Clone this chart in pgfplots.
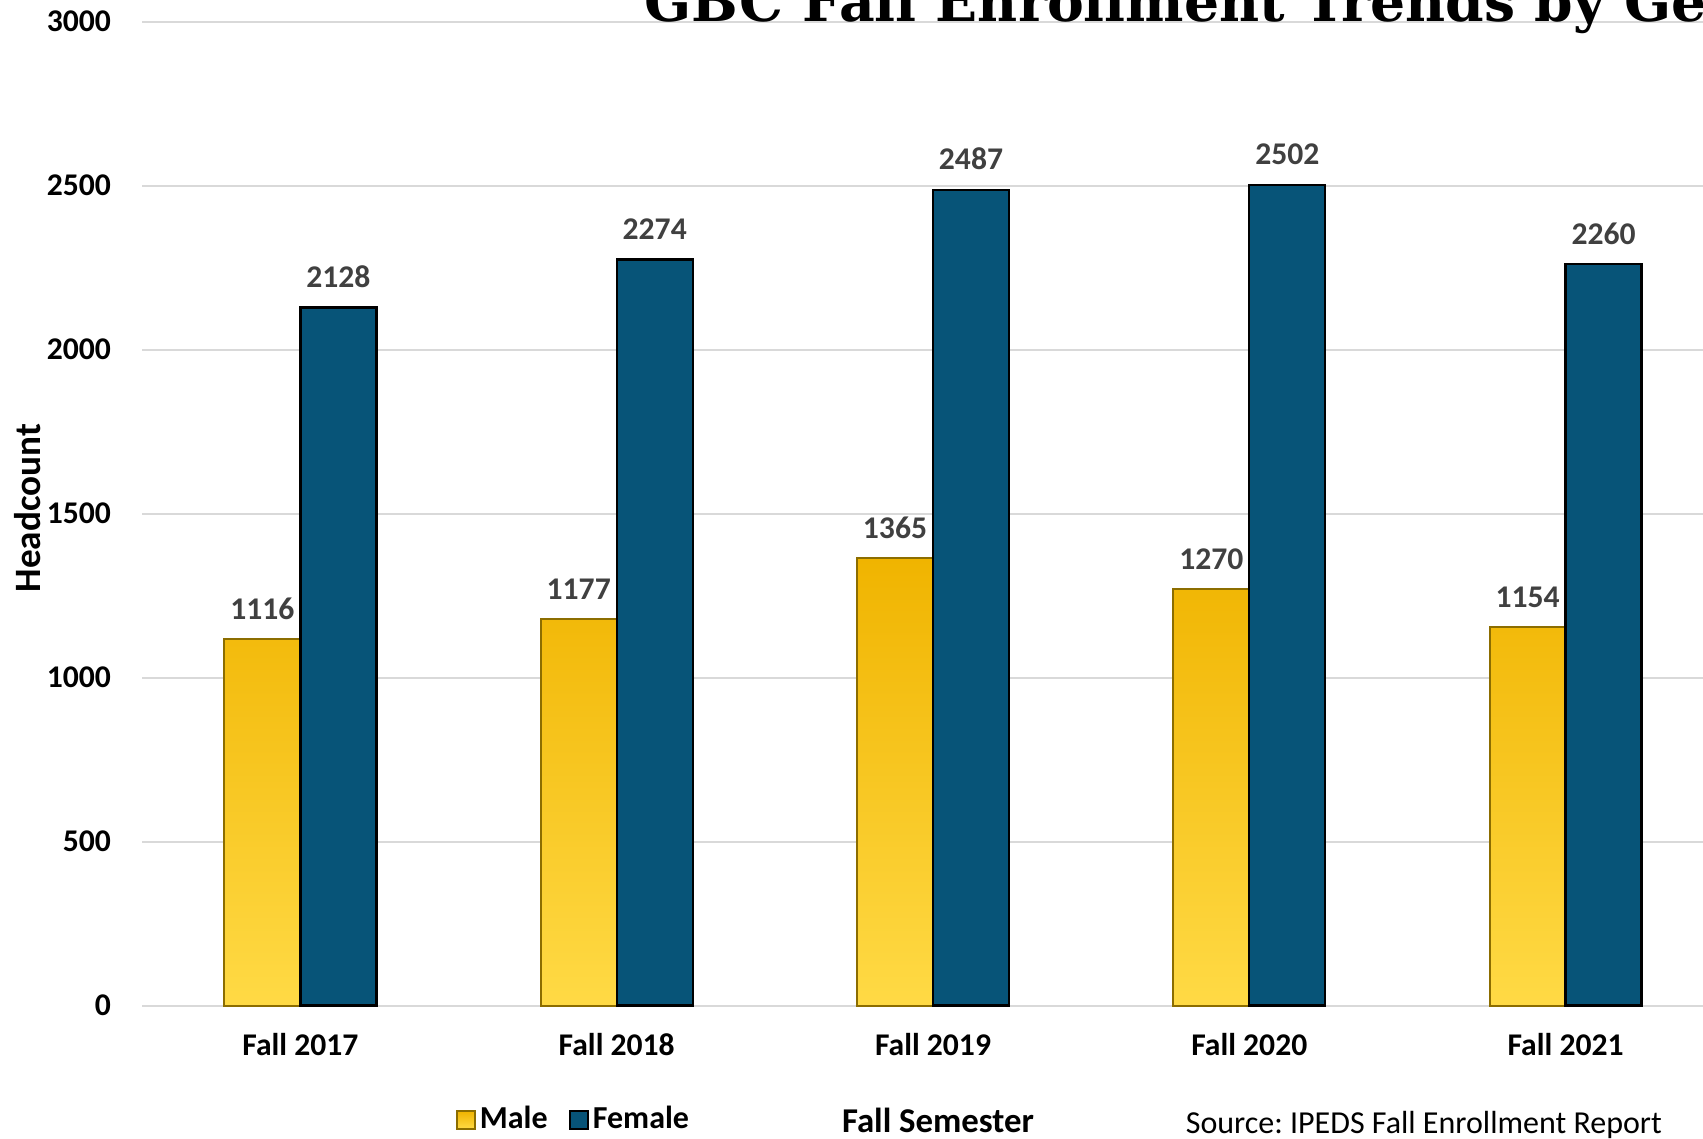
\documentclass[border=0pt]{standalone}
\usepackage{pgfplots}
\pgfplotsset{compat=1.18}
\usepackage{fontspec}
\setmainfont{Carlito}
\newfontfamily\titlefont{DejaVu Serif}
\definecolor{maletop}{HTML}{F0B400}
\definecolor{malebot}{HTML}{FFDA45}
\definecolor{maleedge}{HTML}{8C6D00}
\definecolor{femfill}{HTML}{075478}
\definecolor{lbl}{HTML}{404040}
\definecolor{gridc}{HTML}{D9D9D9}

\begin{document}
\frenchspacing
\begin{tikzpicture}
\begin{axis}[
  at={(35.575pt,33.125pt)}, anchor=south west,
  width=395.35pt, height=246pt, scale only axis,
  xmin=-0.5, xmax=4.5, ymin=0, ymax=3000,
  ybar=0pt, bar width=19pt,
  xtick={0,1,2,3,4},
  xticklabels={Fall 2017,Fall 2018,Fall 2019,Fall 2020,Fall 2021},
  ytick={0,500,1000,1500,2000,2500,3000},
  major tick length=0pt,
  axis x line*=bottom, axis y line*=left,
  x axis line style={draw=gridc, line width=0.5pt},
  y axis line style={draw=none},
  ymajorgrids, grid style={draw=gridc, line width=0.5pt},
  ticklabel style={font=\fontsize{7.9}{9}\selectfont\bfseries},
  xticklabel style={yshift=-3.4pt},
  yticklabel style={xshift=-4.3pt},
  /pgf/number format/assume math mode=true,
  scaled y ticks=false,
  y tick label style={/pgf/number format/set thousands separator={}},
  nodes near coords,
  every node near coord/.append style={font=\fontsize{7.9}{9}\selectfont\bfseries, text=lbl, yshift=1.3pt,
    /pgf/number format/set thousands separator={}, /pgf/number format/assume math mode=true},
  legend style={at={(0.1905,-0.1164)}, anchor=west, draw=none, fill=none,
    legend columns=2, font=\fontsize{8}{9}\selectfont\bfseries,
    /tikz/every even column/.append style={column sep=3.3pt},
    /tikz/every odd column/.append style={column sep=-1pt}},
  legend image code/.code={\draw[#1] (0pt,-2.2pt) rectangle (4.4pt,2.2pt);},
  clip=false,
]
\addplot[draw=maleedge, line width=0.5pt, top color=maletop, bottom color=malebot]
  coordinates {(0,1116) (1,1177) (2,1365) (3,1270) (4,1154)};
\addplot[draw=black, line width=0.6pt, fill=femfill]
  coordinates {(0,2128) (1,2274) (2,2487) (3,2502) (4,2260)};
\legend{Male,Female}
\end{axis}
\begin{scope}[x=0.25pt,y=0.25pt]
\node[anchor=base west, inner sep=0pt, font=\titlefont\bfseries\fontsize{13.8}{16}\selectfont] at (644,1116.3) {GBC Fall Enrollment Trends by Gender};
\node[anchor=base, inner sep=0pt, font=\fontsize{8.7}{10}\selectfont\bfseries] at (938,6) {Fall Semester};
\node[anchor=base west, inner sep=0pt, font=\fontsize{8}{9}\selectfont] at (1185,5) {Source: IPEDS Fall Enrollment Report};
\node[rotate=90, inner sep=0pt, font=\fontsize{9.3}{11}\selectfont\bfseries] at (28,630) {Headcount};
\pgfresetboundingbox
\path[use as bounding box] (0,0) rectangle (1703,1138);
\end{scope}
\end{tikzpicture}
\end{document}
